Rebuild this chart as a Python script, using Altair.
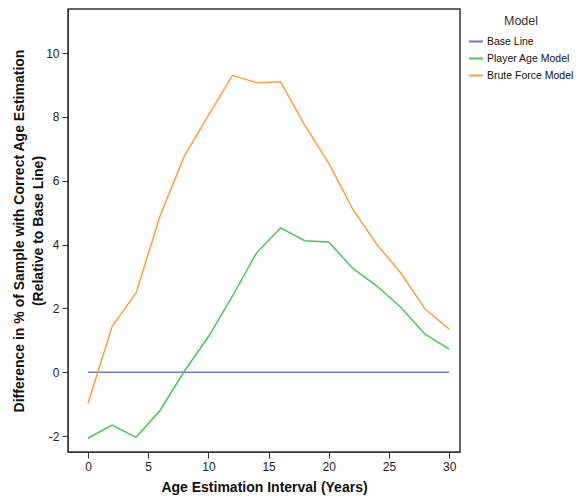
import altair as alt
import pandas as pd

years = [0, 2, 4, 6, 8, 10, 12, 14, 16, 18, 20, 22, 24, 26, 28, 30]
base_line = [0.0] * 16
player_age = [-2.07, -1.66, -2.04, -1.19, 0.03, 1.11, 2.38, 3.74, 4.52, 4.12, 4.08, 3.25, 2.70, 2.03, 1.19, 0.72]
brute_force = [-0.98, 1.43, 2.49, 4.91, 6.77, 8.05, 9.30, 9.07, 9.10, 7.74, 6.55, 5.10, 4.00, 3.10, 1.98, 1.35]

models = ["Base Line", "Player Age Model", "Brute Force Model"]
colors = ["#6a7bd1", "#4fc25b", "#f9a23c"]

rows = []
for name, vals in zip(models, [base_line, player_age, brute_force]):
    for x, v in zip(years, vals):
        rows.append({"Year": x, "Value": v, "Model": name})
df = pd.DataFrame(rows)

font = "Liberation Sans"

chart = alt.Chart(df).mark_line(strokeWidth=1.5, clip=True).encode(
    x=alt.X("Year:Q",
            scale=alt.Scale(domain=[-1.66, 30.9], nice=False, zero=False),
            axis=alt.Axis(values=[0, 5, 10, 15, 20, 25, 30], title="Age Estimation Interval (Years)",
                          grid=False, tickSize=6, labelPadding=3, titlePadding=8,
                          labelExpr="toString(datum.value)")),
    y=alt.Y("Value:Q",
            scale=alt.Scale(domain=[-2.5, 11.38], nice=False, zero=False),
            axis=alt.Axis(values=[-2, 0, 2, 4, 6, 8, 10],
                          title=["Difference in % of Sample with Correct Age Estimation", "(Relative to Base Line)"],
                          grid=False, tickSize=6, labelPadding=3, titlePadding=0, titleLineHeight=19,
                          labelExpr="toString(datum.value)")),
    color=alt.Color("Model:N", scale=alt.Scale(domain=models, range=colors),
                    legend=alt.Legend(orient="none", legendX=400, legendY=6, symbolType="stroke",
                                      symbolSize=196, symbolStrokeWidth=2, title="Model",
                                      titleAnchor="middle", titleFontWeight="normal", titleFontSize=12.5,
                                      titleColor="#333", labelFontSize=10.5, labelColor="#111",
                                      rowPadding=3, titlePadding=6, labelOffset=3)),
    order="Year:Q",
).properties(
    width=392, height=443, padding={"left": 60, "top": 1, "right": 115, "bottom": 47},
    autosize=alt.AutoSizeParams(type="none"),
).configure(font=font).configure_view(
    stroke="#333", strokeWidth=1.5
).configure_axis(
    domainColor="#333", tickColor="#333", labelColor="#222", labelFontSize=12,
    titleFontSize=14, titleFontWeight="bold", titleColor="#111", labelFont=font, titleFont=font
).configure_legend(labelFont=font, titleFont=font)

chart.save("out.html", embed_options={"renderer": "svg", "actions": False})
